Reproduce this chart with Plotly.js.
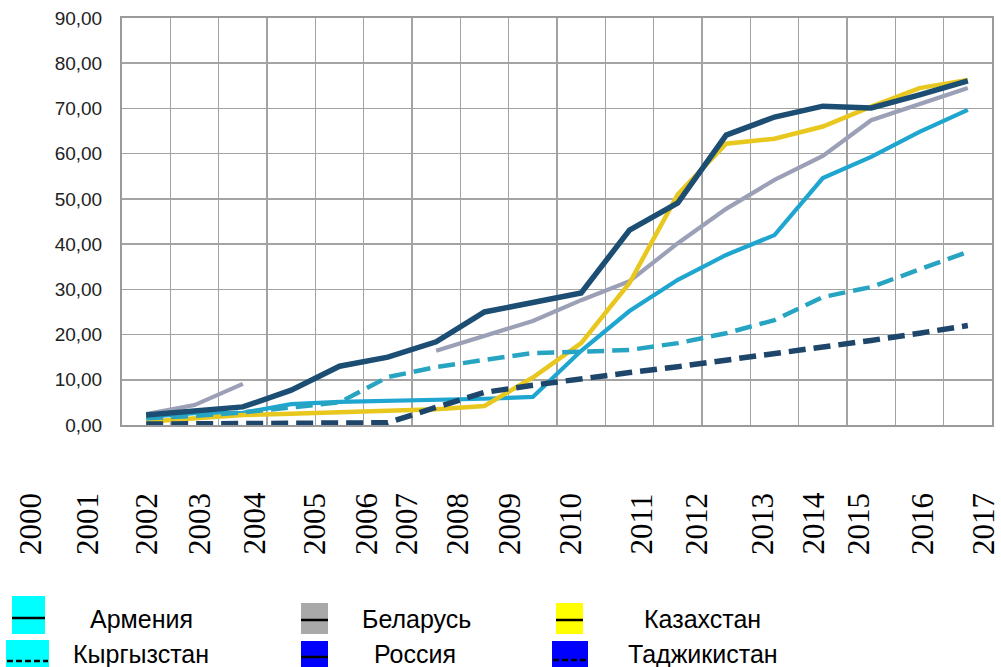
<!DOCTYPE html>
<html>
<head>
<meta charset="utf-8">
<script src="https://cdn.plot.ly/plotly-3.0.1.min.js"></script>
<style>html,body{margin:0;padding:0;background:#fff;}#chart{width:1001px;height:667px;}</style>
</head>
<body>
<div id="chart"></div>
<script>
// ---- data ----
var years = [2000,2001,2002,2003,2004,2005,2006,2007,2008,2009,2010,2011,2012,2013,2014,2015,2016,2017];
var yearLabels = ["2000","2001","2002","2003","2004","2005","2006","2007","2008","2009","2010","2011","2012","2013","2014","2015","2016","2017"];
var armenia    = [1.8, 2.6, 2.7, 4.6, 5.1, 5.3, 5.5, 5.8, 6.2, 16.4, 25.2, 32.1, 37.6, 42.0, 54.6, 59.3, 64.8, 69.7];
var belarus    = [2.4, 4.4, 9.1, null, null, null, 16.4, 19.7, 23.0, 27.6, 31.8, 40.2, 47.8, 54.2, 59.5, 67.4, 71.0, 74.5];
var kazakhstan = [0.7, 1.5, 2.2, 2.5, 2.8, 3.2, 3.5, 4.2, 10.5, 18.1, 31.4, 51.0, 62.2, 63.3, 66.0, 70.4, 74.5, 76.3];
var kyrgyzstan = [1.5, 2.0, 2.8, 4.0, 5.0, 10.6, 12.8, 14.4, 15.9, 16.2, 16.6, 18.1, 20.3, 23.2, 28.3, 30.5, 34.3, 38.3];
var russia     = [2.2, 3.0, 4.0, 7.7, 13.0, 15.0, 18.4, 25.0, 27.0, 29.2, 43.1, 49.1, 64.1, 68.1, 70.5, 70.1, 73.0, 76.1];
var tajikistan = [0.2, 0.2, 0.2, 0.2, 0.2, 0.5, 3.9, 7.2, 8.8, 10.3, 11.6, 12.9, 14.3, 15.6, 17.1, 18.7, 20.3, 22.0];
var legendNames = ["Армения","Беларусь","Казахстан","Кыргызстан","Россия","Таджикистан"];
var yTicks = [0,10,20,30,40,50,60,70,80,90];

// ---- layout helpers ----
var L = 122, R = 992, T = 18, B = 425, W = 1001, H = 667;
function px(x){ return (x - L) / (R - L); }
function py(y){ return (B - y) / (B - T); }

var traces = [
  {name: legendNames[0], y: armenia,    line: {color:'#1fa6d0', width:4.2}},
  {name: legendNames[1], y: belarus,    line: {color:'#9ca0b6', width:4.2}},
  {name: legendNames[2], y: kazakhstan, line: {color:'#e8c81e', width:4.5}},
  {name: legendNames[3], y: kyrgyzstan, line: {color:'#28a4c3', width:4.5, dash:'17px,8px'}},
  {name: legendNames[4], y: russia,     line: {color:'#1c4d72', width:5.5}},
  {name: legendNames[5], y: tajikistan, line: {color:'#1d466a', width:5.5, dash:'17px,8px'}}
].map(function(t){
  return {type:'scatter', mode:'lines', x: years, y: t.y, name: t.name, line: t.line, connectgaps:false, hoverinfo:'skip'};
});

var serif = '"Liberation Serif", "Times New Roman", Times, "Noto Serif", "DejaVu Serif", serif';
var sans = '"Liberation Sans", Arial, Helvetica, sans-serif';

// year labels (irregular positions as in the source picture)
var labelX = [30, 87, 146, 199, 254, 314, 366, 406, 457, 509, 570, 641, 696, 762, 813, 858, 922, 983];
var annotations = yearLabels.map(function(s, i){
  return {text: s, xref:'paper', yref:'paper', x: px(labelX[i]), y: py(557), xanchor:'center', yanchor:'bottom',
          textangle:-90, showarrow:false, font:{family: serif, size:31, color:'#000'}};
});

// custom legend
var legendItems = [
  {box:[12,596,45,634], fill:'#00ffff', lineY:618, dash:'solid', lx:[12,45], tx:141, ty:619},
  {box:[301,603,328,634], fill:'#a9a9a9', lineY:620, dash:'solid', lx:[301,328], tx:416, ty:619},
  {box:[556,603,583,634], fill:'#ffff00', lineY:620, dash:'solid', lx:[556,583], tx:702, ty:619},
  {box:[6,640,49,667], fill:'#00ffff', lineY:661, dash:'dash', lx:[7,48], tx:141, ty:654},
  {box:[301,641,328,667], fill:'#0000ff', lineY:657, dash:'solid', lx:[301,328], tx:415, ty:654},
  {box:[552,641,588,667], fill:'#0000ff', lineY:660, dash:'dash', lx:[553,588], tx:703, ty:654}
];
var shapes = [];
legendItems.forEach(function(it, i){
  shapes.push({type:'rect', xref:'paper', yref:'paper', x0:px(it.box[0]), x1:px(it.box[2]), y0:py(it.box[3]), y1:py(it.box[1]),
               fillcolor:it.fill, line:{width:0}});
  shapes.push({type:'line', xref:'paper', yref:'paper', x0:px(it.lx[0]), x1:px(it.lx[1]), y0:py(it.lineY), y1:py(it.lineY),
               line:{color:'#000', width:2.5, dash: it.dash === 'dash' ? '6px,3px' : 'solid'}});
  annotations.push({text: legendNames[i], xref:'paper', yref:'paper', x:px(it.tx), y:py(it.ty), xanchor:'center', yanchor:'middle',
                    showarrow:false, font:{family: sans, size:25, color:'#000'}});
});

var layout = {
  width: W, height: H,
  margin: {l: L, r: W - R, t: T, b: H - B, pad: 0},
  paper_bgcolor: '#fff', plot_bgcolor: '#fff',
  showlegend: false,
  separators: ', ',
  font: {family: sans},
  xaxis: {range:[1999.5, 2017.5], tick0:1999.5, dtick:1, showticklabels:false, showgrid:true,
          gridcolor:'#a3a3a3', gridwidth:1.5, zeroline:false, showline:true, linecolor:'#9a9a9a', linewidth:2, mirror:true, ticks:''},
  yaxis: {range:[0, 90], tickvals: yTicks, tickformat:'.2f', showgrid:true, gridcolor:'#a3a3a3', gridwidth:1.5,
          zeroline:false, showline:true, linecolor:'#9a9a9a', linewidth:2, mirror:true, ticks:'', ticklabelstandoff:14,
          tickfont:{family: sans, size:19, color:'#222'}},
  annotations: annotations,
  shapes: shapes
};

Plotly.newPlot('chart', traces, layout, {staticPlot:true, displayModeBar:false});
</script>
</body>
</html>
